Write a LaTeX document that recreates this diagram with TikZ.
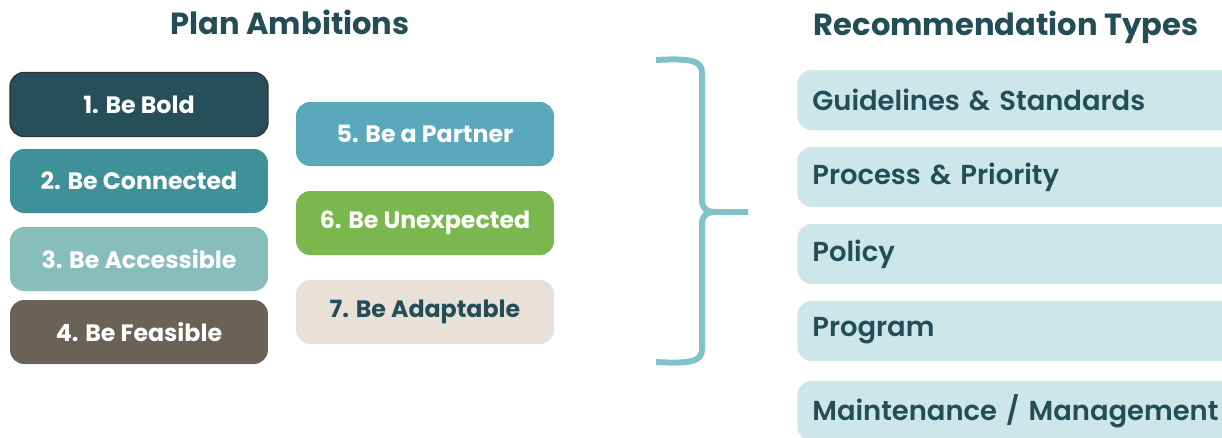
\documentclass[tikz,border=0pt]{standalone}
\usepackage{fontspec}
\setmainfont{Poppins}
\newfontfamily\semibold[WordSpace=0.7]{Poppins SemiBold}
\usepackage{xcolor}
\usetikzlibrary{positioning}
\definecolor{PlanInk}{HTML}{234E58}
\definecolor{PlanBold}{HTML}{264F5A}
\definecolor{PlanConnected}{HTML}{3F9199}
\definecolor{PlanAccessible}{HTML}{87BDBB}
\definecolor{PlanFeasible}{HTML}{6B6257}
\definecolor{PlanPartner}{HTML}{5BA8BC}
\definecolor{PlanUnexpected}{HTML}{7AB74E}
\definecolor{PlanAdaptable}{HTML}{E9E0D8}
\definecolor{RecFill}{HTML}{CDE6E9}
\definecolor{BraceTeal}{HTML}{7FC3C8}
\tikzset{
  ambition/.style={
    rounded corners=8pt,
    minimum width=5.16cm,
    minimum height=1.28cm,
    align=center,
    font=\bfseries\fontsize{13.5}{15}\selectfont,
    text=white,
    inner sep=0pt
  },
  rectype/.style={
    rounded corners=8pt,
    fill=RecFill,
    minimum height=1.2cm,
    anchor=west,
    text=PlanInk,
    font=\semibold\fontsize{15.6}{18}\selectfont,
    text width=9cm,
    align=left,
    inner xsep=.3cm,
    inner ysep=0pt
  },
  heading/.style={font=\bfseries\fontsize{17.4}{20}\selectfont,text=PlanInk}
}

\begin{document}
\begin{tikzpicture}[x=.02cm,y=-.02cm]
  \useasboundingbox (0,0) rectangle (1222,437);

  % Headings.
  \node[heading] (plan) at (290,22) {Plan Ambitions};
  \node[heading] (rec) at (1006,27) {Recommendation Types};

  % Plan ambitions, first column.
  \node[ambition,fill=PlanBold,draw=black!80,line width=.8pt] (bold) at (139,104.5) {1. Be Bold};
  \node[ambition,fill=PlanConnected] (connected) at (139,181) {2. Be Connected};
  \node[ambition,fill=PlanAccessible] (accessible) at (139,259) {3. Be Accessible};
  \node[ambition,fill=PlanFeasible] (feasible) at (139,332) {4. Be Feasible};

  % Plan ambitions, second column.
  \node[ambition,fill=PlanPartner] (partner) at (425,134) {5. Be a Partner};
  \node[ambition,fill=PlanUnexpected] (unexpected) at (425,223) {6. Be Unexpected};
  \node[ambition,fill=PlanAdaptable,text=PlanInk] (adaptable) at (425,312) {7. Be Adaptable};

  % Brace gathering the ambitions.
  \draw[BraceTeal,line width=3.4pt]
    (656,60) .. controls (692,58) and (702,61) .. (702,73) -- (702,200)
    .. controls (702,208) and (706,212) .. (716,212) -- (748,212);
  \draw[BraceTeal,line width=3.4pt]
    (716,212) .. controls (706,212) and (702,216) .. (702,224) -- (702,349)
    .. controls (702,361) and (692,364) .. (656,362);

  % Recommendation types.
  \foreach \y/\n/\t in {100/guide/Guidelines \& Standards,177/process/Process \& Priority,
    254/policy/Policy,331/program/Program,411/maint/{Maintenance / Management}}{
    \node[rectype] (\n) at (797,\y) {\t};
  }
\end{tikzpicture}
\end{document}
